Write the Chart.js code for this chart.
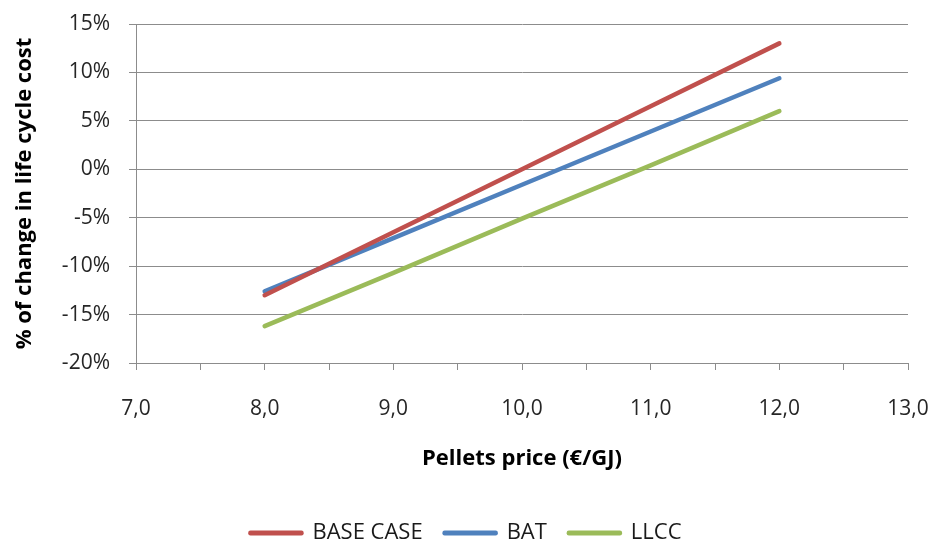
<!DOCTYPE html>
<html>
<head>
<meta charset="utf-8">
<script src="https://cdn.jsdelivr.net/npm/chart.js@4/dist/chart.umd.min.js"></script>
<style>
  html, body { margin: 0; padding: 0; background: #fff; }
  #wrap { width: 935px; height: 541px; position: relative; }
</style>
</head>
<body>
<div id="wrap"><canvas id="c" width="935" height="541"></canvas></div>
<script>
// Pellets price (€/GJ)
const prices = [8, 9, 10, 11, 12];
// % change in life cycle cost per scenario
const baseCase = [-13.0, -6.5, 0.0, 6.5, 13.0];
const bat      = [-12.6, -7.1, -1.6, 3.9, 9.4];
const llcc     = [-16.2, -10.7, -5.1, 0.4, 6.0];
const seriesNames = ['BASE CASE', 'BAT', 'LLCC'];

const FONT = "'Open Sans', 'Liberation Sans', sans-serif";
const toPoints = ys => prices.map((x, i) => ({ x: x, y: ys[i] }));

// Nudge the legend row down toward the bottom edge and slightly right
const legendShift = {
  id: 'legendShift',
  afterLayout(chart) {
    const lg = chart.legend;
    if (!lg) return;
    const dy = 13, dx = 12;
    lg.top += dy; lg.bottom += dy;
    lg.left += dx; lg.right += dx;
  }
};

new Chart(document.getElementById('c'), {
  type: 'line',
  plugins: [legendShift],
  data: {
    datasets: [
      { label: seriesNames[0], data: toPoints(baseCase), borderColor: '#C0504D', backgroundColor: '#C0504D' },
      { label: seriesNames[1], data: toPoints(bat),      borderColor: '#4F81BD', backgroundColor: '#4F81BD' },
      { label: seriesNames[2], data: toPoints(llcc),     borderColor: '#9BBB59', backgroundColor: '#9BBB59' }
    ].map(d => Object.assign(d, { borderWidth: 4.5, pointRadius: 0, borderCapStyle: 'round', borderJoinStyle: 'round', tension: 0, fill: false }))
  },
  options: {
    responsive: false,
    animation: false,
    layout: { padding: { top: 24, right: 27, left: 0, bottom: 0 } },
    plugins: {
      tooltip: { enabled: false },
      legend: {
        position: 'bottom',
        labels: {
          boxWidth: 51, boxHeight: 0.5,
          color: '#1a1a1a', font: { family: FONT, size: 22 }, padding: 22
        }
      }
    },
    scales: {
      x: {
        type: 'linear', min: 7, max: 13,
        afterFit: s => { s.height = 124; s.paddingLeft = 0; s.paddingRight = 0; },
        border: { display: true, color: '#8c8c8c', width: 1 },
        grid: { display: true, drawOnChartArea: false, drawTicks: true, tickLength: 7, color: '#8c8c8c' },
        ticks: {
          stepSize: 0.5, autoSkip: false, maxRotation: 0, padding: 26,
          color: '#262626', font: { family: FONT, size: 21 },
          callback: v => (Math.abs(v - Math.round(v)) < 1e-9 ? v.toFixed(1).replace('.', ',') : '')
        },
        title: { display: true, text: 'Pellets price (€/GJ)', color: '#000', font: { family: FONT, size: 22, weight: 'bold' }, padding: { top: 0, bottom: 15 } }
      },
      y: {
        min: -20, max: 15,
        afterFit: s => { s.width = 136; s.paddingTop = 0; s.paddingBottom = 0; },
        border: { display: true, color: '#8c8c8c', width: 1 },
        grid: { color: '#8c8c8c', lineWidth: 1, tickLength: 7 },
        ticks: {
          stepSize: 5, padding: 19, color: '#262626', font: { family: FONT, size: 21 },
          callback: v => v + '%'
        },
        title: { display: true, text: '% of change in life cycle cost', color: '#000', font: { family: FONT, size: 22, weight: 'bold' }, padding: { top: 12, bottom: 0 } }
      }
    }
  }
});
</script>
</body>
</html>
